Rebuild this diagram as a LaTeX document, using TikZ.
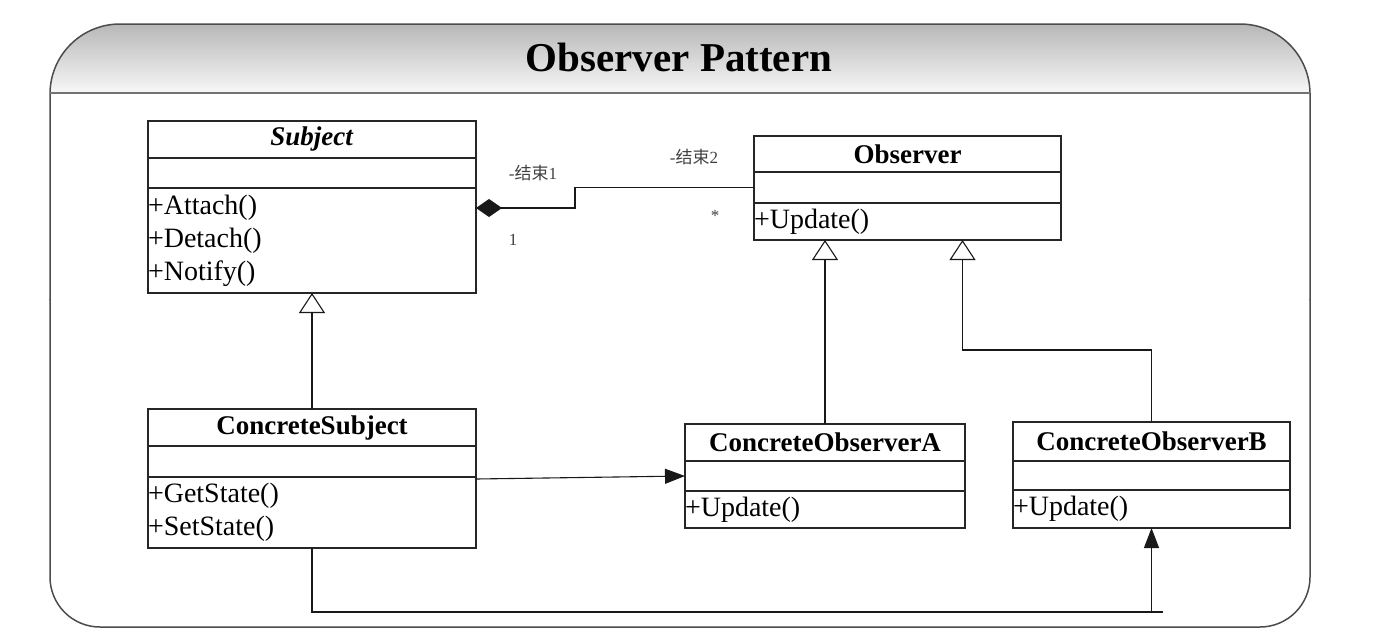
\documentclass[tikz,border=0pt]{standalone}
\usepackage{fontspec}
\setmainfont{Liberation Serif}
\newfontfamily\cjk{Noto Sans CJK SC}
\usetikzlibrary{calc}
\usetikzlibrary{positioning}
\usetikzlibrary{arrows.meta}

\begin{document}
\begin{tikzpicture}[%
  x=1pt, y=-1pt,
  frame/.style={draw=black!70, line width=1.5pt},
  cls/.style={draw=black!85, line width=1.2pt, outer sep=0pt, inner sep=0pt, minimum width=#1},
  clsname/.style={cls=#1, font=\fontsize{27}{32}\selectfont\bfseries},
  clsattr/.style={cls=#1},
  clsops/.style={cls=#1, text width=#1, align=left, font=\fontsize{28}{33}\selectfont},
  conn/.style={draw=black!90, line width=1.1pt},
  gen/.style={conn, -{Triangle[open, length=20pt, width=26pt, fill=white]}},
  dep/.style={conn, -{Triangle[length=20pt, width=15pt]}},
  comp/.style={conn, {Diamond[length=26pt, width=18pt]}-},
  lbl/.style={font=\fontsize{17}{20}\selectfont, text=black!75}
]

  \useasboundingbox (0,0) rectangle (1394,632);

  % frame and header
  \begin{scope}
    \clip[rounded corners=70pt] (50,300) |- (680,24) -| (1310,300) -- cycle;
    \shade[top color=black!28, bottom color=black!3] (50,24) rectangle (1310,93);
  \end{scope}
  \draw[frame, rounded corners=70pt] (50,300) |- (680,24) -| (1310,300);
  \draw[frame, rounded corners=50pt] (50,299) |- (680,627) -| (1310,299);
  \draw[frame, draw=black!55, line width=2.5pt] (50,93) -- (1310,93);
  \node[font=\fontsize{41}{48}\selectfont\bfseries] (title) at (679,57) {Observer Pattern};

  \node[clsname=328pt, minimum height=37pt, anchor=north west] (subj) at (148,121) {\textit{Subject}};
  \node[clsattr=328pt, minimum height=30pt, below=0pt of subj] (subjAttr) {};
  \node[clsops=328pt, minimum height=105pt, below=0pt of subjAttr] (subjOps) {+Attach()\\+Detach()\\+Notify()};

  \node[clsname=307pt, minimum height=36pt, anchor=north west] (obs) at (754,136) {Observer};
  \node[clsattr=307pt, minimum height=31pt, below=0pt of obs] (obsAttr) {};
  \node[clsops=307pt, minimum height=37pt, below=0pt of obsAttr] (obsOps) {+Update()};

  \node[clsname=328pt, minimum height=37pt, anchor=north west] (cs) at (148,409) {ConcreteSubject};
  \node[clsattr=328pt, minimum height=31pt, below=0pt of cs] (csAttr) {};
  \node[clsops=328pt, minimum height=71pt, below=0pt of csAttr] (csOps) {+GetState()\\+SetState()};

  \node[clsname=280pt, minimum height=37pt, anchor=north west] (coa) at (685,424) {ConcreteObserverA};
  \node[clsattr=280pt, minimum height=30pt, below=0pt of coa] (coaAttr) {};
  \node[clsops=280pt, minimum height=37pt, below=0pt of coaAttr] (coaOps) {+Update()};

  \node[clsname=277pt, minimum height=39pt, anchor=north west] (cob) at (1013,422) {ConcreteObserverB};
  \node[clsattr=277pt, minimum height=29pt, below=0pt of cob] (cobAttr) {};
  \node[clsops=277pt, minimum height=38pt, below=0pt of cobAttr] (cobOps) {+Update()};

  % association
  \draw[comp] ($(subjOps.north east)+(0,20)$) -- ++(99,0) |- (obsAttr.west);
  \node[lbl] (end1) at (533,173) {-{\cjk 结束}1};
  \node[lbl] (mult1) at (513,240) {1};
  \node[lbl] (end2) at (694,157) {-{\cjk 结束}2};
  \node[lbl] (mult2) at (715,216) {*};

  % inheritance
  \draw[gen] (cs.north) -- (subjOps.south);
  \draw[gen] (coa.north) -- (coa.north |- obsOps.south);
  \draw[gen] (cob.north) -- ++(0,-72) -| ([xshift=55pt]obsOps.south);

  \draw[dep] ([yshift=-2pt]csOps.north east) -- (coaAttr.west);
  \coordinate (bus) at ($(csOps.south)+(0,64)$);
  \draw[conn] (csOps.south) -- (bus) -- (bus -| cobOps.south) -- ++(11,0);
  \draw[dep] (bus -| cobOps.south) -- (cobOps.south);

\end{tikzpicture}
\end{document}
